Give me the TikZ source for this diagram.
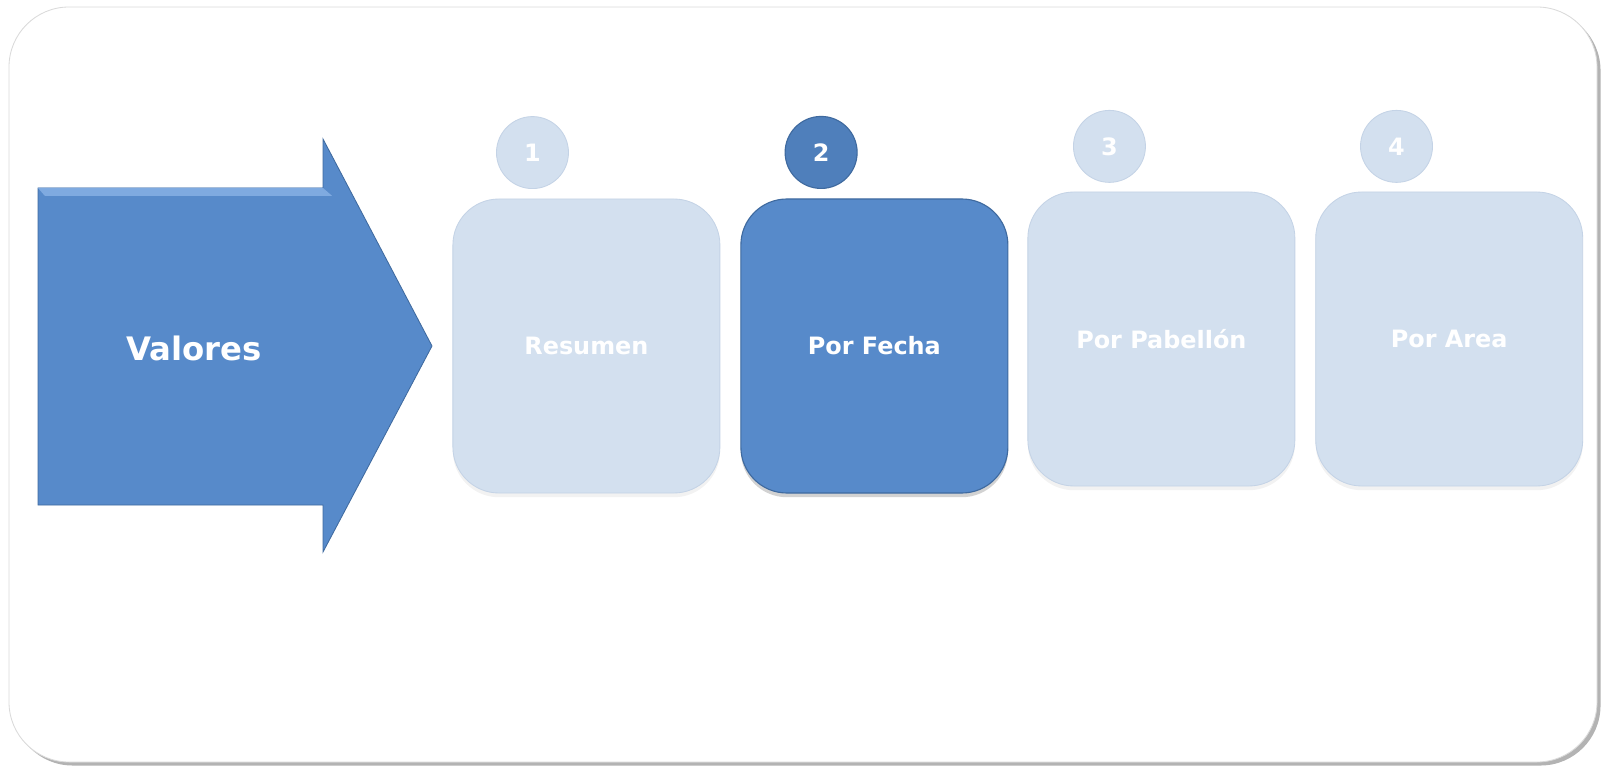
\documentclass[tikz,border=0pt]{standalone}
\usepackage{fontspec}
\setmainfont{DejaVu Sans}
\usetikzlibrary{positioning,calc,shadows}
\definecolor{stepblue}{HTML}{578ACA}
\definecolor{stepdark}{HTML}{3F6A9F}
\definecolor{steplight}{HTML}{7FAAE0}
\definecolor{steppale}{HTML}{D3E0EF}
\definecolor{paleedge}{HTML}{C4D3E6}
\definecolor{dotblue}{HTML}{4F7FBB}
\definecolor{framegray}{HTML}{DADADA}
\tikzset{
  tab/.style={rectangle,rounded corners=1.15cm,minimum width=6.675cm,minimum height=7.35cm,font=\fontsize{17}{20}\selectfont\bfseries,text=white,align=center},
  tabon/.style={tab,fill=stepblue,draw=stepdark,line width=0.8pt,drop shadow={opacity=0.35,shadow xshift=0pt,shadow yshift=-3pt}},
  taboff/.style={tab,fill=steppale,draw=paleedge,line width=0.6pt,drop shadow={opacity=0.10,shadow xshift=0pt,shadow yshift=-3pt}},
  badge/.style={circle,minimum size=1.8cm,inner sep=0pt,font=\fontsize{17}{20}\selectfont\bfseries,text=white},
  badgeon/.style={badge,fill=dotblue,draw=stepdark,line width=0.8pt},
  badgeoff/.style={badge,fill=steppale,draw=paleedge,line width=0.6pt}
}

\begin{document}
\begin{tikzpicture}
  \useasboundingbox (0,0) rectangle (40.1,19.275);
  % frame
  \draw[framegray,fill=white,line width=0.6pt,rounded corners=1.5cm,drop shadow={opacity=0.6,shadow xshift=2.5pt,shadow yshift=-2.5pt}] (0.225,0.225) rectangle (39.925,19.1);
  % big arrow
  \draw[fill=stepblue,draw=stepdark,line width=0.6pt] (0.95,14.575) -- (8.075,14.575) -- (8.075,15.8) -- (10.8,10.625) -- (8.075,5.475) -- (8.075,6.65) -- (0.95,6.65) -- cycle;
  \fill[steplight] (0.95,14.575) -- (8.075,14.575) -- (8.3,14.38) -- (1.12,14.38) -- cycle;
  \node[font=\fontsize{23}{26}\selectfont\bfseries,text=white] (valores) at (4.85,10.575) {Valores};
  % steps
  \node[taboff] (resumen) at (14.66,10.625) {Resumen};
  \node[tabon,right=0.5cm of resumen] (fecha) {Por Fecha};
  \node[taboff,right=0.475cm of fecha,yshift=0.175cm] (pabellon) {Por Pabellón};
  \node[taboff,right=0.5cm of pabellon] (area) {Por Area};
  % numbers
  \node[badgeoff] (n1) at ($(resumen.north west)+(2.0,1.15)$) {1};
  \node[badgeon] (n2) at ($(fecha.north west)+(2.02,1.15)$) {2};
  \node[badgeoff] (n3) at ($(pabellon.north west)+(2.05,1.13)$) {3};
  \node[badgeoff] (n4) at ($(area.north west)+(2.03,1.13)$) {4};
\end{tikzpicture}
\end{document}
